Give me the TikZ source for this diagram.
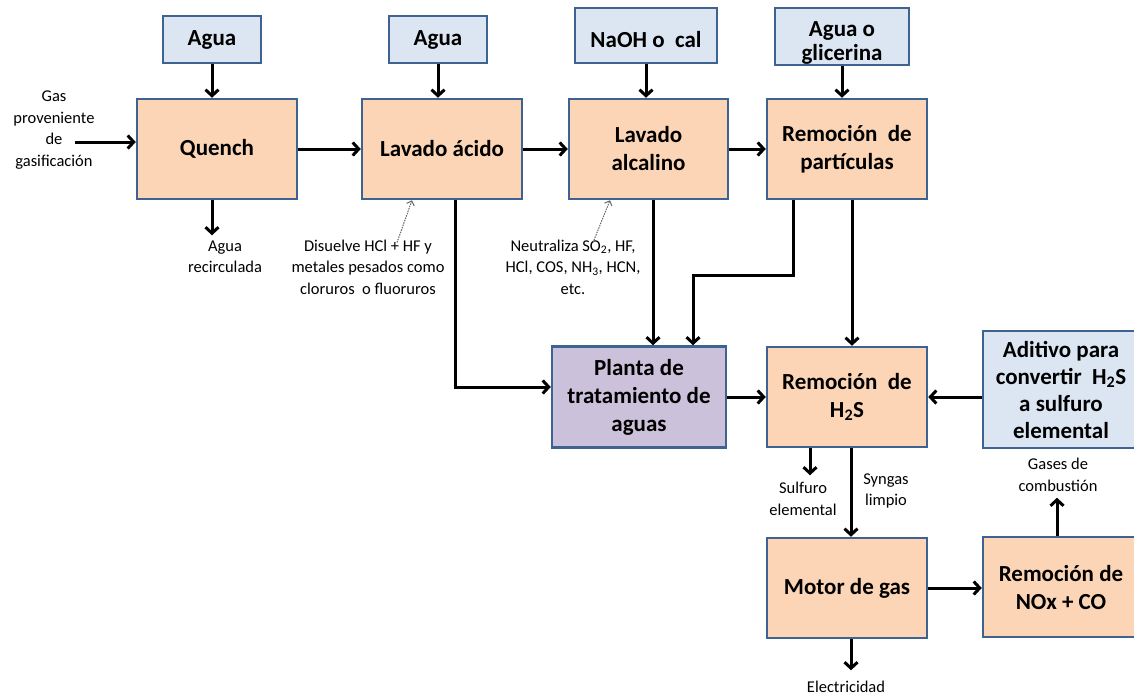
\documentclass[tikz,border=0pt]{standalone}
\usepackage{fontspec}
\setmainfont{Carlito}
\usepackage{xcolor}
\usetikzlibrary{arrows.meta,positioning,calc}

\definecolor{boxline}{HTML}{3F6391}
\definecolor{peach}{HTML}{FBD5B5}
\definecolor{paleblue}{HTML}{DCE6F2}
\definecolor{lilac}{HTML}{CCC1DA}

\begin{document}
\begin{tikzpicture}[x=1pt,y=-1pt,
  box/.style={draw=boxline,line width=2.5pt,rectangle,align=center,
    font=\fontsize{23}{28}\selectfont\bfseries,inner sep=0pt},
  procbox/.style={box,fill=peach,minimum width=160pt,minimum height=100pt},
  inbox/.style={box,fill=paleblue},
  flow/.style={line width=3pt,-{Straight Barb[length=6pt,width=13pt]}},
  note/.style={black!60,line width=1pt,dash pattern=on 1.5pt off 1pt,
    -{Straight Barb[length=4pt,width=8pt]}},
  small/.style={align=center,font=\fontsize{16.5}{21.5}\selectfont,inner sep=0pt}]
\useasboundingbox (0,0) rectangle (1134,699);

% main line
\node[procbox] (quench) at (217,149) {Quench};
\node[procbox] (lavA) at (442,149) {Lavado ácido};
\node[procbox,minimum width=159pt] (lavB) at (648.5,149) {Lavado\\alcalino};
\node[procbox] (remP) at (847,149) {Remoción~ de\\partículas};
\node[box,fill=lilac,minimum width=174pt,minimum height=101pt] (planta) at (639,397) {Planta de\\tratamiento de\\aguas};
\node[procbox] (remH) at (847,397) {Remoción~ de\\H\textsubscript{2}S};
\node[procbox] (motor) at (847,588) {Motor de gas};
\node[procbox,minimum width=156pt] (nox) at (1061,587) {Remoción de\\NOx + CO};

% inputs
\node[inbox,minimum width=98pt,minimum height=47pt] (agua1) at (212,39.5) {Agua};
\node[inbox,minimum width=98pt,minimum height=47pt] (agua2) at (438,39.5) {Agua};
\node[inbox,minimum width=142pt,minimum height=55pt] (naoh) at (646,35.5) {\rule{0pt}{24pt}NaOH o~ cal};
\node[inbox,minimum width=134pt,minimum height=57pt,
  font=\fontsize{23}{24}\selectfont\bfseries] (glic) at (842,36.5)
  {\rule{0pt}{27pt}Agua o\\glicerina};
\node[inbox,minimum width=156pt,minimum height=117pt,
  font=\fontsize{23}{27}\selectfont\bfseries] (aditivo) at (1061,389.5)
  {Aditivo para\\convertir~ H\textsubscript{2}S\\a sulfuro\\elemental};

% small labels
\node[small] (gas) at (54,130) {Gas\\proveniente\\de\\gasificación};
\node[small] (recirc) at (225,257) {Agua\\recirculada};
\node[small] (disuelve) at (368,267) {Disuelve HCl + HF y\\metales pesados como\\cloruros~ o fluoruros};
\node[small] (neutra) at (573,267) {Neutraliza SO\textsubscript{2}, HF,\\HCl, COS, NH\textsubscript{3}, HCN,\\etc.};
\node[small] (sulf) at (803,499) {Sulfuro\\elemental};
\node[small] (syngas) at (886,491) {Syngas\\limpio};
\node[small] (gases) at (1058,475) {Gases de\\combustión};
\node[small] (elec) at (846,687) {Electricidad};

\coordinate (gasin) at (75,142);

\draw[flow] (gasin) -- (gasin -| quench.west);
\draw[flow] (agua1.south) -- (agua1.south |- quench.north);
\draw[flow] (agua2.south) -- (agua2.south |- lavA.north);
\draw[flow] (naoh.south) -- (naoh.south |- lavB.north);
\draw[flow] (glic.south) -- (glic.south |- remP.north);
\draw[flow] (quench.east) -- (lavA.west);
\draw[flow] (lavA.east) -- (lavB.west);
\draw[flow] (lavB.east) -- (remP.west);
\draw[flow] ([xshift=-5pt]quench.south) -- ++(0,35);

\draw[flow] ([xshift=13pt]lavA.south) |- ([yshift=10pt]planta.west);
\draw[flow] ([xshift=4.5pt]lavB.south) -- ([xshift=14pt]planta.north);
\draw[flow] ([xshift=-54pt]remP.south) -- ++(0,75) -| ([xshift=54pt]planta.north);
\draw[flow] ([xshift=5pt]remP.south) -- ([xshift=5pt]remH.north);
\draw[flow] (planta.east) -- (remH.west);
\draw[flow] (remH.east -| aditivo.west) -- (remH.east);

\draw[flow] ([xshift=-37pt]remH.south) -- ++(0,27);
\draw[flow] ([xshift=4pt]remH.south) -- ([xshift=4pt]motor.north);
\draw[flow] (motor.east) -- (motor.east -| nox.west);
\draw[flow] ([xshift=-4pt]nox.north) -- ++(0,-38);
\draw[flow] ([xshift=4pt]motor.south) -- ++(0,31);

% hints
\draw[note] ([xshift=29pt,yshift=-3pt]disuelve.north) -- ([xshift=-30pt]lavA.south);
\draw[note] ([xshift=20pt,yshift=-3pt]neutra.north) -- ([xshift=-38.5pt]lavB.south);
\end{tikzpicture}
\end{document}
